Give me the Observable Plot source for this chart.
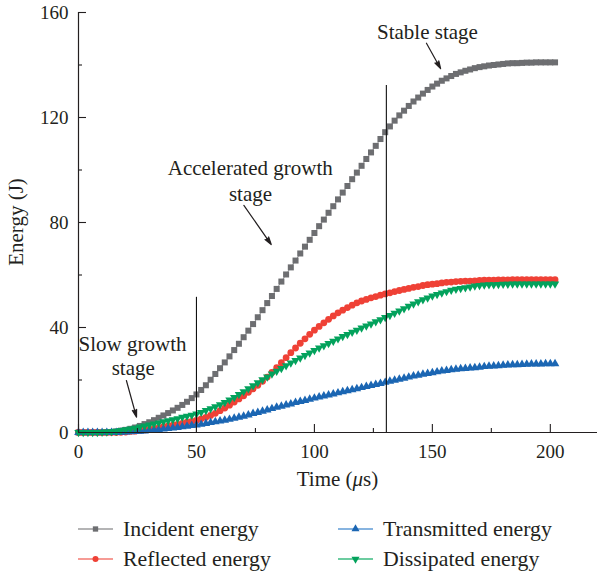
<!DOCTYPE html>
<html>
<head>
<meta charset="utf-8">
<script src="https://cdn.jsdelivr.net/npm/d3@7"></script>
<script src="https://cdn.jsdelivr.net/npm/@observablehq/plot@0.6"></script>
<style>
  body { margin: 0; background: #fff; font-family: "Liberation Serif", "DejaVu Serif", serif; color: #231f20; }
  #wrap { position: relative; width: 597px; height: 576px; overflow: hidden; }
  #legend { position: absolute; left: 0; top: 500px; width: 597px; height: 76px; }
  .item { position: absolute; display: flex; align-items: center; height: 28px; font-size: 21.8px; white-space: nowrap; }
  .item svg { margin-right: 10px; flex: none; }
</style>
</head>
<body>
<div id="wrap">
  <div id="chart"></div>
  <div id="legend"></div>
</div>
<script>
// ---- data ----
const time = [0,2,4,6,8,10,12,14,16,18,20,22,24,26,28,30,32,34,36,38,
  40,42,44,46,48,50,52,54,56,58,60,62,64,66,68,70,72,74,76,78,
  80,82,84,86,88,90,92,94,96,98,100,102,104,106,108,110,112,114,116,118,
  120,122,124,126,128,130,132,134,136,138,140,142,144,146,148,150,152,154,156,158,
  160,162,164,166,168,170,172,174,176,178,180,182,184,186,188,190,192,194,196,198,
  200,202];
const incident = [0,0,0,0,0, 0,0.1,0.2,0.4,0.7,
  1.0,1.4,1.9,2.5,3.2, 3.9,4.7,5.6,6.5,7.4,
  8.4,9.4,10.5,11.7,13.1, 14.5,16.2,18.0,20.1,22.3,
  24.5,26.7,29.0,31.4,33.8, 36.3,38.8,41.3,43.9,46.6,
  49.3,52.0,54.7,57.5,60.2, 62.9,65.5,68.2,70.8,73.4,
  76.0,78.6,81.1,83.7,86.2, 88.8,91.4,93.9,96.5,99.0,
  101.6,104.2,106.7,109.2,111.8, 114.4,116.6,118.8,120.8,122.6,
  124.4,126.1,127.6,129.1,130.5, 131.8,132.9,134.0,134.9,135.8,
  136.6,137.2,137.8,138.3,138.8, 139.2,139.5,139.8,140.0,140.2,
  140.4,140.6,140.7,140.7,140.8, 140.9,140.9,141.0,141.0,141.0,
  141.0,141.0];
const reflected = [0,0,0,0,0, 0,0,0,0,0.1,
  0.2,0.4,0.5,0.7,1.0, 1.2,1.5,1.8,2.2,2.5,
  2.8,3.1,3.5,3.9,4.2, 4.6,5.2,5.8,6.5,7.3,
  8.3,9.3,10.4,11.6,12.8, 14.0,15.3,16.6,18.0,19.5,
  21.1,22.9,24.7,26.6,28.5, 30.4,32.2,34.0,35.7,37.4,
  39.0,40.4,41.8,43.1,44.4, 45.6,46.6,47.6,48.5,49.4,
  50.1,50.7,51.3,51.8,52.3, 52.8,53.2,53.7,54.1,54.5,
  54.9,55.3,55.6,56.0,56.3, 56.5,56.7,57.0,57.2,57.3,
  57.5,57.6,57.7,57.7,57.8, 57.9,58.0,58.0,58.0,58.1,
  58.1,58.1,58.2,58.2,58.2, 58.2,58.2,58.2,58.2,58.2,
  58.2,58.2];
const transmitted = [0,0,0,0,0, 0,0,0,0,0.1,
  0.2,0.3,0.4,0.5,0.6, 0.8,1.0,1.1,1.3,1.5,
  1.7,1.9,2.2,2.4,2.7, 2.9,3.1,3.4,3.8,4.1,
  4.4,4.7,5.0,5.4,5.8, 6.2,6.7,7.2,7.6,8.1,
  8.6,9.1,9.6,10.0,10.5, 10.9,11.4,11.8,12.2,12.7,
  13.1,13.5,13.9,14.3,14.7, 15.1,15.5,15.9,16.3,16.7,
  17.1,17.5,17.9,18.3,18.7, 19.1,19.5,19.9,20.3,20.7,
  21.1,21.5,21.8,22.2,22.5, 22.8,23.1,23.4,23.6,23.9,
  24.1,24.3,24.4,24.6,24.7, 24.9,25.1,25.2,25.3,25.4,
  25.6,25.7,25.8,25.8,25.9, 26.0,26.1,26.1,26.1,26.2,
  26.2,26.2];
const dissipated = [0,0,0,0,0, 0.1,0.2,0.3,0.5,0.8,
  1.1,1.4,1.7,2.1,2.5, 2.9,3.3,3.7,4.1,4.5,
  4.9,5.3,5.8,6.2,6.6, 7.1,7.7,8.4,9.1,9.8,
  10.6,11.5,12.4,13.4,14.5, 15.6,16.7,17.8,19.0,20.1,
  21.2,22.3,23.4,24.4,25.5, 26.5,27.5,28.4,29.4,30.3,
  31.3,32.2,33.1,33.9,34.8, 35.7,36.6,37.4,38.2,39.0,
  39.8,40.6,41.4,42.2,43.0, 43.8,44.6,45.5,46.3,47.2,
  48.1,49.0,49.8,50.6,51.3, 52.0,52.6,53.2,53.7,54.2,
  54.6,54.9,55.2,55.5,55.8, 56.0,56.2,56.3,56.3,56.4,
  56.5,56.5,56.6,56.6,56.6, 56.6,56.6,56.6,56.6,56.6,
  56.6,56.6];

const seriesNames = ["Incident energy", "Reflected energy", "Transmitted energy", "Dissipated energy"];
const xMajor = [0, 50, 100, 150, 200];
const xMinor = [25, 75, 125, 175];
const yMajor = [0, 40, 80, 120, 160];
const yMinor = [20, 60, 100, 140];
const stageLines = [{t: 50, top: 51.5}, {t: 130.5, top: 132.2}];
const notes = [
  {text: "Stable stage", t: 147.9, e: 152.4},
  {text: "Accelerated growth", t: 72.8, e: 100.5},
  {text: "stage", t: 72.9, e: 90.9},
  {text: "Slow growth", t: 22.9, e: 33.8},
  {text: "stage", t: 23.2, e: 24.3}
];
const pointers = [
  {t1: 147.5, e1: 148.3, t2: 153.5, e2: 138.6},
  {t1: 70.1, e1: 86.5, t2: 81.7, e2: 71.6},
  {t1: 20.3, e1: 19.8, t2: 24.6, e2: 5.8}
];

// ---- styles ----
const triangleDown = {
  draw(context, size) {
    const s3 = Math.sqrt(3);
    const y = -Math.sqrt(size / (s3 * 3));
    context.moveTo(0, -y * 2);
    context.lineTo(-s3 * y, y);
    context.lineTo(s3 * y, y);
    context.closePath();
  }
};
const styles = [
  {fill: "#6d6e71", line: "#9b9b9d", symbol: "square", r: 3.4},
  {fill: "#ef4136", line: "#f37a72", symbol: "circle", r: 3.4},
  {fill: "#1b66b3", line: "#5f9bd6", symbol: "triangle", r: 3.2},
  {fill: "#03a25c", line: "#3bbb80", symbol: triangleDown, r: 3.1}
];
const valueSets = [incident, reflected, transmitted, dissipated];
const tables = valueSets.map((vals, k) => time.map((t, i) => ({t, e: vals[i], name: seriesNames[k]})));

const ink = "#231f20";
const seriesMarks = tables.flatMap((rows, k) => [
  Plot.line(rows, {x: "t", y: "e", stroke: styles[k].line, strokeWidth: 1}),
  Plot.dot(rows, {x: "t", y: "e", symbol: styles[k].symbol, r: styles[k].r, fill: styles[k].fill, stroke: "none"})
]);

const chart = Plot.plot({
  width: 597,
  height: 500,
  marginLeft: 78,
  marginRight: 0,
  marginTop: 12,
  marginBottom: 68,
  x: {domain: [0, 220]},
  y: {domain: [0, 160]},
  style: {fontFamily: "'Liberation Serif', 'DejaVu Serif', serif", fontSize: "19px", color: ink, background: "white", overflow: "visible"},
  marks: [
    ...seriesMarks,
    Plot.ruleX(stageLines, {x: "t", y1: 0, y2: "top", stroke: "#111", strokeWidth: 1.1}),
    Plot.ruleY([0], {x1: 0, x2: 220, stroke: ink, strokeWidth: 1.2}),
    Plot.ruleX([0], {y1: 0, y2: 160, stroke: ink, strokeWidth: 1.2}),
    Plot.ruleX(xMajor, {x: d => d, y1: 0, y2: 0, insetBottom: 8, stroke: ink, strokeWidth: 1.1}),
    Plot.ruleX(xMinor, {x: d => d, y1: 0, y2: 0, insetBottom: 4, stroke: ink, strokeWidth: 1.1}),
    Plot.ruleY(yMajor, {y: d => d, x1: 0, x2: 0, insetLeft: 8, stroke: ink, strokeWidth: 1.1}),
    Plot.ruleY(yMinor, {y: d => d, x1: 0, x2: 0, insetLeft: 4, stroke: ink, strokeWidth: 1.1}),
    Plot.axisX({ticks: xMajor, tickSize: 0, tickPadding: 12, label: null, fontSize: 19}),
    Plot.axisY({ticks: yMajor, tickSize: 0, tickPadding: 10, label: null, fontSize: 19}),
    Plot.text(notes, {x: "t", y: "e", text: "text", fontSize: 21, fill: ink}),
    Plot.arrow(pointers, {x1: "t1", y1: "e1", x2: "t2", y2: "e2", stroke: ink, fill: ink, strokeWidth: 1.2, headLength: 10, headAngle: 32})
  ]
});

document.getElementById("chart").appendChild(chart);

// axis titles (real text, positioned from the scales)
const svg = d3.select(chart);
const xs = chart.scale("x"), ys = chart.scale("y");
const cx = (xs.range[0] + xs.range[1]) / 2;
const cy = (ys.range[0] + ys.range[1]) / 2;
const xt = svg.append("text")
  .attr("x", cx).attr("y", 486)
  .attr("text-anchor", "middle")
  .attr("font-size", 21).attr("fill", ink);
xt.append("tspan").text("Time (");
xt.append("tspan").attr("font-style", "italic").text("μ");
xt.append("tspan").text("s)");
svg.append("text")
  .attr("transform", `translate(23,${cy}) rotate(-90)`)
  .attr("text-anchor", "middle")
  .attr("font-size", 21).attr("fill", ink)
  .text("Energy (J)");

// legend (HTML below the SVG)
const legendPos = [
  {left: 78, top: 15}, {left: 78, top: 45}, {left: 338, top: 15}, {left: 338, top: 45}
];
const legend = d3.select("#legend");
seriesNames.forEach((name, k) => {
  const item = legend.append("div").attr("class", "item")
    .style("left", legendPos[k].left + "px").style("top", legendPos[k].top + "px");
  const s = item.append("svg").attr("width", 35).attr("height", 14);
  s.append("line").attr("x1", 0).attr("x2", 35).attr("y1", 7).attr("y2", 7)
    .attr("stroke", styles[k].line).attr("stroke-width", 1.6);
  const sym = typeof styles[k].symbol === "string"
    ? {square: d3.symbolSquare, circle: d3.symbolCircle, triangle: d3.symbolTriangle}[styles[k].symbol]
    : styles[k].symbol;
  s.append("path").attr("transform", "translate(17.5,7)")
    .attr("d", d3.symbol(sym, Math.PI * 3 * 3)())
    .attr("fill", styles[k].fill);
  item.append("span").text(name);
});
</script>
</body>
</html>
